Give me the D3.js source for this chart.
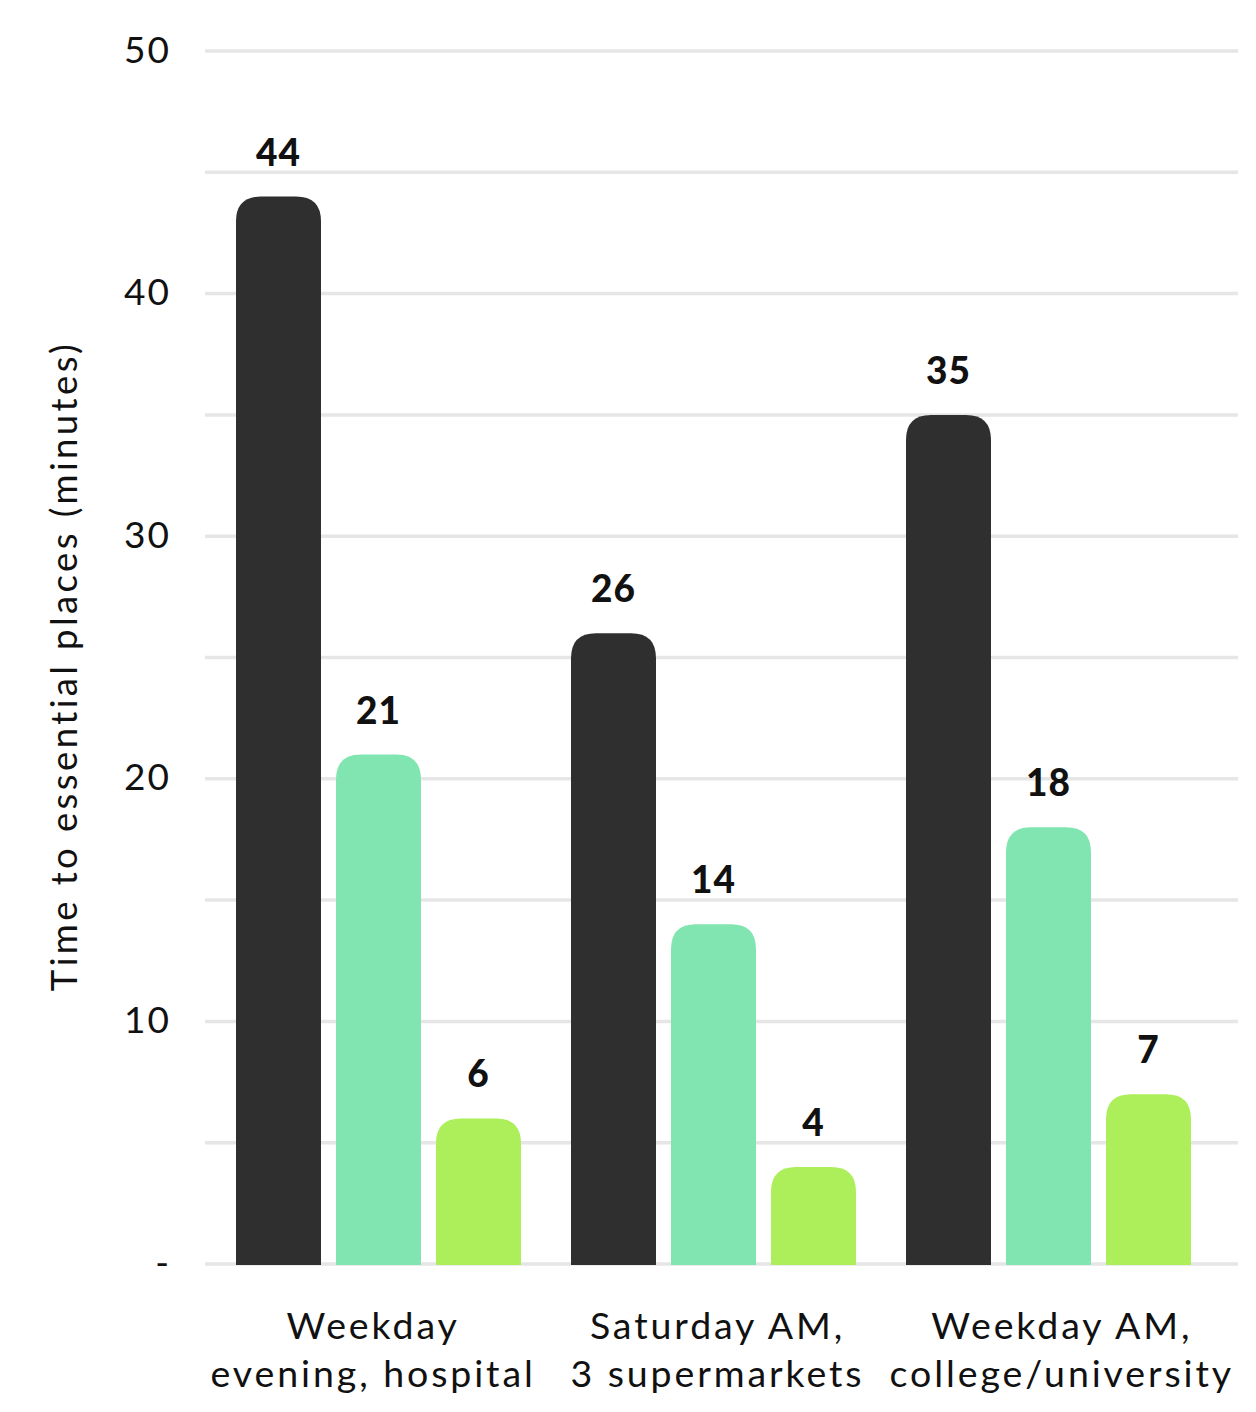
<!DOCTYPE html>
<html>
<head>
<meta charset="utf-8">
<script src="https://cdn.jsdelivr.net/npm/d3@7"></script>
<style>
  html, body { margin: 0; padding: 0; background: #ffffff; }
  svg { display: block; }
  text { font-family: "Lato", "Open Sans", sans-serif; fill: #111111; }
</style>
</head>
<body>
<svg id="chart" width="1256" height="1412"></svg>
<script>
// Travel-time chart data
const categories = [
  ["Weekday", "evening, hospital"],
  ["Saturday AM,", "3 supermarkets"],
  ["Weekday AM,", "college/university"]
];
const seriesNames = ["Series A", "Series B", "Series C"];
const seriesA = [44, 26, 35];
const seriesB = [21, 14, 18];
const seriesC = [6, 4, 7];
const yTicks = [0, 10, 20, 30, 40, 50];
const yTickLabels = ["-", "10", "20", "30", "40", "50"];
const gridValues = [0, 5, 10, 15, 20, 25, 30, 35, 40, 45, 50];
const yTitle = "Time to essential places (minutes)";

const colors = ["#2f2f2f", "#80e5b0", "#acef5a"];
const seriesValues = [seriesA, seriesB, seriesC];

const svg = d3.select("#chart");
const plot = { left: 205, right: 1238, top: 51, bottom: 1264 };

const y = d3.scaleLinear().domain([0, 50]).range([plot.bottom, plot.top]);

// group positions for the bars
const x0 = d3.scaleBand()
  .domain(d3.range(categories.length))
  .range([211, 1216])
  .padding(0);

// bars within a group
const x1 = d3.scaleBand()
  .domain(seriesNames)
  .range([0, 300])
  .paddingInner(0.15)
  .paddingOuter(0.075);

// category label bands
const xLabel = d3.scaleBand()
  .domain(d3.range(categories.length))
  .range([201, 1234])
  .padding(0);

// gridlines
svg.append("g")
  .selectAll("line")
  .data(gridValues)
  .join("line")
  .attr("x1", plot.left)
  .attr("x2", plot.right)
  .attr("y1", d => y(d))
  .attr("y2", d => y(d))
  .attr("stroke", "#e6e6e6")
  .attr("stroke-width", 3.5);

// y axis labels
const yAxis = d3.axisLeft(y)
  .tickValues(yTicks)
  .tickFormat((d, i) => yTickLabels[i])
  .tickSize(0)
  .tickPadding(0);
const yg = svg.append("g")
  .attr("transform", `translate(171,0)`)
  .call(yAxis);
yg.select(".domain").remove();
yg.selectAll("text")
  .attr("font-size", 37)
  .attr("font-family", "Lato, sans-serif")
  .attr("letter-spacing", 2)
  .attr("dy", "0.3em")
  .attr("fill", "#111");

// axis title
svg.append("text")
  .attr("transform", `translate(77,${666}) rotate(-90)`)
  .attr("text-anchor", "middle")
  .attr("font-size", 36.5)
  .attr("letter-spacing", 3.4)
  .text(yTitle);

// bar with rounded top corners
function barPath(x, w, yTop, yBase, r) {
  const rr = Math.min(r, w / 2, yBase - yTop);
  return `M${x},${yBase}V${yTop + rr}` +
    `Q${x},${yTop} ${x + rr},${yTop}` +
    `H${x + w - rr}` +
    `Q${x + w},${yTop} ${x + w},${yTop + rr}` +
    `V${yBase}Z`;
}

const barData = [];
categories.forEach((c, ci) => {
  seriesNames.forEach((s, si) => {
    barData.push({ ci, si, s, value: seriesValues[si][ci] });
  });
});

const groupStart = ci => x0(ci) + x0.bandwidth() / 2 - 150;

svg.append("g")
  .selectAll("path")
  .data(barData)
  .join("path")
  .attr("d", d => barPath(groupStart(d.ci) + x1(d.s), x1.bandwidth(), y(d.value), y(0) + 1, 25))
  .attr("fill", d => colors[d.si]);

// value labels
svg.append("g")
  .selectAll("text")
  .data(barData)
  .join("text")
  .attr("x", d => groupStart(d.ci) + x1(d.s) + x1.bandwidth() / 2)
  .attr("y", d => y(d.value) - 31)
  .attr("text-anchor", "middle")
  .attr("font-size", 37)
  .attr("font-weight", 900)
  .attr("letter-spacing", 1)
  .text(d => d3.format("d")(d.value));

// category labels
const catG = svg.append("g")
  .selectAll("text")
  .data(categories)
  .join("text")
  .attr("x", (d, i) => xLabel(i) + xLabel.bandwidth() / 2)
  .attr("y", 1339)
  .attr("text-anchor", "middle")
  .attr("font-size", 37.5)
  .attr("letter-spacing", 2.9);
catG.selectAll("tspan")
  .data(d => d)
  .join("tspan")
  .attr("x", function () { return d3.select(this.parentNode).attr("x"); })
  .attr("dy", (d, i) => i === 0 ? 0 : 48)
  .text(d => d);
</script>
</body>
</html>
